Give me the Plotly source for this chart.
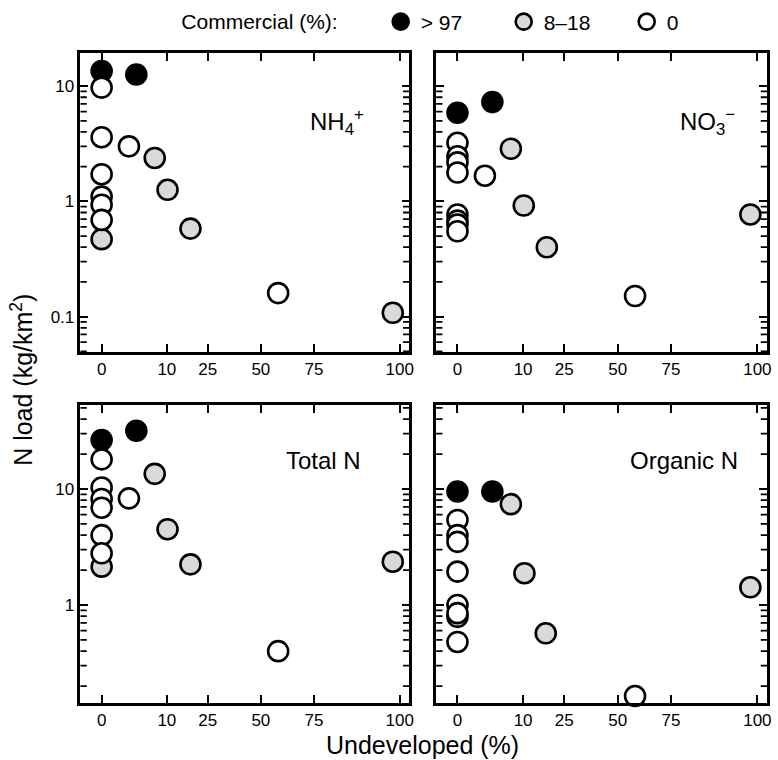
import numpy as np
import plotly.graph_objects as go

# ---- data: undeveloped land (%) and N load (kg/km2) by commercial-land class ----
# NH4+
nh4_black_x = [0, 2.9]
nh4_black_y = [13.5, 12.6]
nh4_gray_x = [0, 6.7, 10.2, 18.0, 98.2]
nh4_gray_y = [0.47, 2.38, 1.26, 0.58, 0.108]
nh4_white_x = [0, 0, 0, 0, 0, 0, 1.8, 58.5]
nh4_white_y = [9.7, 3.6, 1.72, 1.10, 0.935, 0.69, 3.0, 0.16]

# NO3-
no3_black_x = [0, 2.9]
no3_black_y = [5.87, 7.26]
no3_gray_x = [6.7, 10.2, 18.0, 98.2]
no3_gray_y = [2.86, 0.92, 0.40, 0.77]
no3_white_x = [0, 0, 0, 0, 0, 0, 0, 0, 1.8, 58.5]
no3_white_y = [3.22, 2.46, 2.18, 1.78, 0.77, 0.68, 0.63, 0.55, 1.67, 0.151]

# Total N
tn_black_x = [0, 2.9]
tn_black_y = [26.4, 31.8]
tn_gray_x = [0, 6.7, 10.2, 18.0, 98.2]
tn_gray_y = [2.14, 13.5, 4.5, 2.24, 2.36]
tn_white_x = [0, 0, 0, 0, 0, 0, 1.8, 58.5]
tn_white_y = [18.0, 10.3, 8.2, 6.9, 4.0, 2.79, 8.3, 0.40]

# Organic N
on_black_x = [0, 2.9]
on_black_y = [9.5, 9.5]
on_gray_x = [0, 6.7, 10.4, 17.6, 98.2]
on_gray_y = [0.79, 7.4, 1.88, 0.57, 1.42]
on_white_x = [0, 0, 0, 0, 0, 0, 0, 58.5]
on_white_y = [5.4, 4.0, 3.5, 1.94, 1.0, 0.85, 0.48, 0.164]

x_tick_labels = [0, 10, 25, 50, 75, 100]
y_tick_vals = [0.1, 1, 10]
y_tick_text = ["0.1", "1", "10"]

class_names = ["> 97", "8\u201318", "0"]
class_fill = ["#000000", "#d9d9d9", "#ffffff"]


def arcsine_pct(p):
    """Arcsine-square-root transform of a percentage (capped at 99 %)."""
    p = np.clip(np.asarray(p, dtype=float), 0, 99)
    return np.arcsin(np.sqrt(p / 100.0))


FONT = "Liberation Sans, Arial, Helvetica, sans-serif"

x_range = [-0.1044, 1.518]
x_tick_pos = arcsine_pct(x_tick_labels)
top_range = [-1.307, 1.287]
bottom_range = [-0.845, 1.724]

# 2..9 positions inside every decade for the short log ticks
y_minor_vals = [m * 10.0 ** e for e in range(-2, 2) for m in range(2, 10)]

fig = go.Figure()

panels = [
    ("x", "y", top_range, [(nh4_black_x, nh4_black_y), (nh4_gray_x, nh4_gray_y), (nh4_white_x, nh4_white_y)]),
    ("x2", "y2", top_range, [(no3_black_x, no3_black_y), (no3_gray_x, no3_gray_y), (no3_white_x, no3_white_y)]),
    ("x3", "y3", bottom_range, [(tn_black_x, tn_black_y), (tn_gray_x, tn_gray_y), (tn_white_x, tn_white_y)]),
    ("x4", "y4", bottom_range, [(on_black_x, on_black_y), (on_gray_x, on_gray_y), (on_white_x, on_white_y)]),
]

for pi, (xa, ya, yr, series) in enumerate(panels):
    # short minor ticks on both frame sides: half-length dashes centred on the
    # frame and clipped to the plot area, so only the inner half shows
    mv = [v for v in y_minor_vals if 10 ** yr[0] < v < 10 ** yr[1]]
    fig.add_trace(go.Scatter(
        x=[x_range[0]] * len(mv) + [x_range[1]] * len(mv), y=mv + mv,
        xaxis=xa, yaxis=ya, mode="markers", showlegend=False,
        cliponaxis=True, hoverinfo="skip",
        marker=dict(symbol="line-ew", size=9, color="black",
                    line=dict(color="black", width=1.8)),
    ))
    for ci, (xs, ys) in enumerate(series):
        fig.add_trace(go.Scatter(
            x=arcsine_pct(xs), y=ys, xaxis=xa, yaxis=ya,
            mode="markers", name=class_names[ci],
            legendgroup=class_names[ci], showlegend=(pi == 0),
            cliponaxis=False,
            marker=dict(size=20, color=class_fill[ci],
                        line=dict(color="black", width=2.6)),
            hoverinfo="skip",
        ))

axis_common = dict(
    showline=True, linewidth=2.6, linecolor="black", mirror="ticks",
    ticks="inside", tickwidth=2, tickcolor="black",
    showgrid=False, zeroline=False,
    tickfont=dict(family=FONT, size=17, color="black"),
)

x_common = dict(axis_common, range=x_range, tickmode="array",
                tickvals=list(x_tick_pos), ticktext=[str(t) for t in x_tick_labels],
                ticklen=8)

y_common = dict(axis_common, type="log", tickmode="array",
                tickvals=y_tick_vals, ticktext=y_tick_text, ticklen=8)

W, H = 778, 760
col_dom = [[81 / W, 412 / W], [439 / W, 772 / W]]
row_dom = [[1 - 352 / H, 1 - 53 / H], [1 - 703 / H, 1 - 405 / H]]

fig.update_layout(
    width=W, height=H,
    margin=dict(l=0, r=0, t=0, b=0),
    paper_bgcolor="white", plot_bgcolor="white",
    font=dict(family=FONT, color="black"),
    xaxis=dict(x_common, domain=col_dom[0], anchor="y"),
    yaxis=dict(y_common, domain=row_dom[0], anchor="x", range=top_range),
    xaxis2=dict(x_common, domain=col_dom[1], anchor="y2"),
    yaxis2=dict(y_common, domain=row_dom[0], anchor="x2", range=top_range,
                showticklabels=False),
    xaxis3=dict(x_common, domain=col_dom[0], anchor="y3"),
    yaxis3=dict(y_common, domain=row_dom[1], anchor="x3", range=bottom_range),
    xaxis4=dict(x_common, domain=col_dom[1], anchor="y4"),
    yaxis4=dict(y_common, domain=row_dom[1], anchor="x4", range=bottom_range,
                showticklabels=False),
    legend=dict(
        orientation="h", x=0.232, y=0.998, xanchor="left", yanchor="top",
        title=dict(text="Commercial (%):\u00a0\u00a0\u00a0\u00a0\u00a0\u00a0", side="left",
                   font=dict(family=FONT, size=21, color="black")),
        font=dict(family=FONT, size=21, color="black"),
        bgcolor="rgba(0,0,0,0)", itemsizing="trace",
        entrywidth=78, entrywidthmode="pixels",
    ),
)

panel_labels = [
    ("x domain", "y domain", 0.78, 0.77, "NH<sub>4</sub><sup>+</sup>"),
    ("x2 domain", "y2 domain", 0.82, 0.77, "NO<sub>3</sub><sup>\u2212</sup>"),
    ("x3 domain", "y3 domain", 0.74, 0.815, "Total N"),
    ("x4 domain", "y4 domain", 0.75, 0.815, "Organic N"),
]
for xr, yr, xp, yp, txt in panel_labels:
    fig.add_annotation(xref=xr, yref=yr, x=xp, y=yp, text=txt,
                       showarrow=False, xanchor="center", yanchor="middle",
                       font=dict(family=FONT, size=24, color="black"))

fig.add_annotation(xref="paper", yref="paper", x=0.546, y=1 - 745 / H,
                   text="Undeveloped (%)", showarrow=False,
                   xanchor="center", yanchor="middle",
                   font=dict(family=FONT, size=25, color="black"))
fig.add_annotation(xref="paper", yref="paper", x=22 / W, y=1 - 380 / H,
                   text="N load (kg/km<sup>2</sup>)", textangle=-90,
                   showarrow=False, xanchor="center", yanchor="middle",
                   font=dict(family=FONT, size=25, color="black"))

fig.write_html("out.html")
